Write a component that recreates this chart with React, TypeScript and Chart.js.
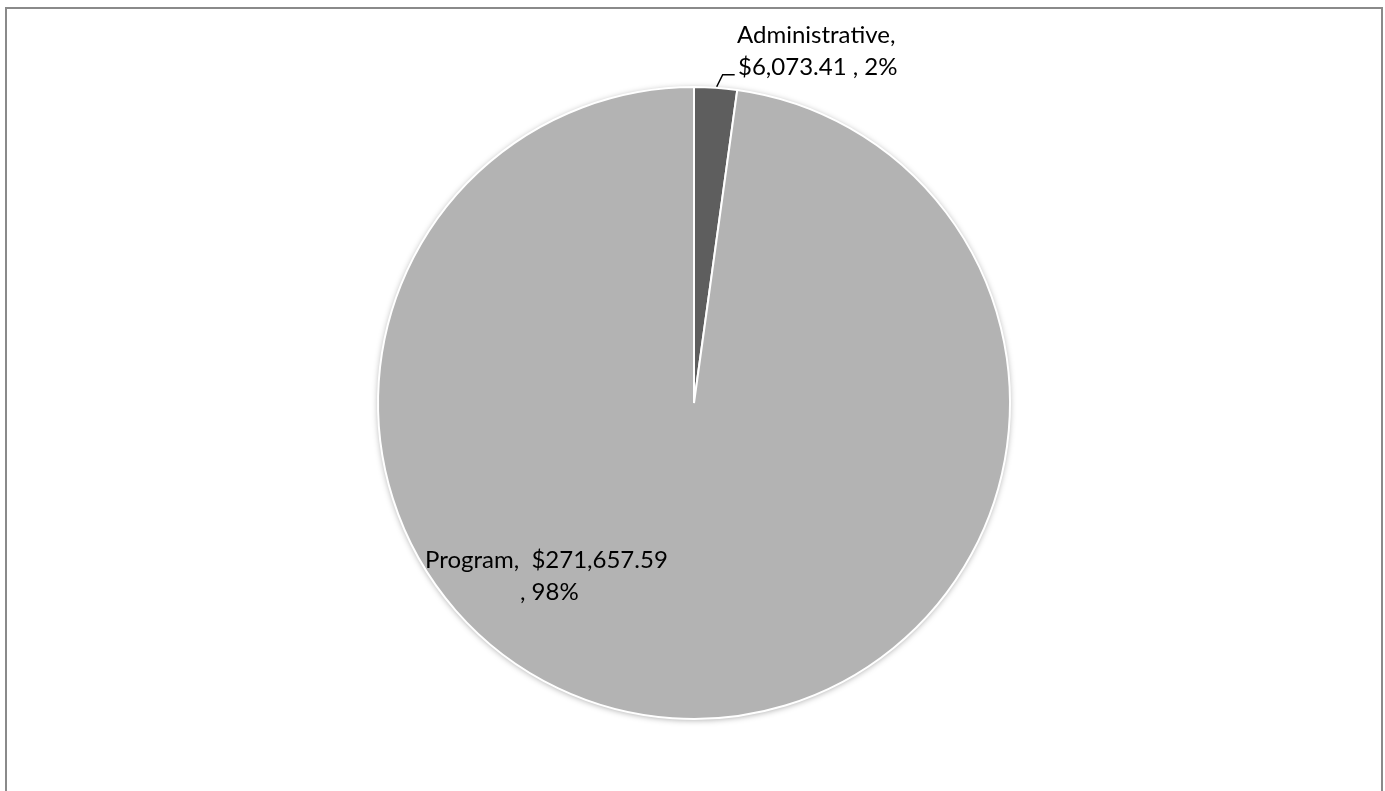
import React, { useEffect, useRef } from "react";
import { Chart, registerables } from "chart.js";

Chart.register(...registerables);

const categories = ["Administrative", "Program"];
const values = [6073.41, 271657.59];
const sliceColors = ["#5e5e5e", "#b3b3b3"];

const FONT = "Lato, 'Open Sans', sans-serif";

function money(v: number) {
  return "$" + v.toLocaleString("en-US", { minimumFractionDigits: 2, maximumFractionDigits: 2 });
}

const total = values.reduce((a, b) => a + b, 0);
const pct = values.map((v) => Math.round((v / total) * 100) + "%");

const frame = {
  id: "frame",
  beforeDraw(chart: any) {
    const ctx = chart.ctx;
    ctx.save();
    ctx.fillStyle = "#ffffff";
    ctx.fillRect(0, 0, chart.width, chart.height);
    ctx.strokeStyle = "#8a8a8a";
    ctx.lineWidth = 2;
    ctx.strokeRect(6, 8, 1376, 800);
    ctx.restore();
  },
  beforeDatasetsDraw(chart: any) {
    const meta = chart.getDatasetMeta(0);
    const arc = meta.data[1];
    if (!arc) return;
    const ctx = chart.ctx;
    ctx.save();
    ctx.shadowColor = "rgba(0,0,0,0.35)";
    ctx.shadowBlur = 6;
    ctx.shadowOffsetX = 0;
    ctx.shadowOffsetY = 1;
    ctx.beginPath();
    ctx.arc(arc.x, arc.y, arc.outerRadius, 0, Math.PI * 2);
    ctx.fillStyle = "#ffffff";
    ctx.fill();
    ctx.restore();
  },
  afterDatasetsDraw(chart: any) {
    const meta = chart.getDatasetMeta(0);
    const a0 = meta.data[0];
    if (!a0) return;
    const cx = a0.x;
    const cy = a0.y;
    const r = a0.outerRadius;
    const ctx = chart.ctx;
    ctx.save();
    ctx.fillStyle = "#000000";
    ctx.font = "24px " + FONT;
    ctx.textBaseline = "alphabetic";
    ctx.textAlign = "left";
    // Administrative label (outside, top)
    const mid = (a0.startAngle + a0.endAngle) / 2;
    const ex = cx + Math.cos(mid) * r;
    const ey = cy + Math.sin(mid) * r;
    ctx.strokeStyle = "#000000";
    ctx.lineWidth = 1.5;
    ctx.beginPath();
    ctx.moveTo(ex + 1, ey - 1);
    ctx.lineTo(ex + 7, ey - 13);
    ctx.lineTo(ex + 19, ey - 13);
    ctx.stroke();
    ctx.fillText(categories[0] + ",", cx + 43, cy - 360);
    ctx.fillText(money(values[0]) + " , " + pct[0], cx + 44, cy - 328);
    // Program label (inside)
    ctx.fillText(categories[1] + ",  " + money(values[1]), cx - 269, cy + 165);
    ctx.fillText(", " + pct[1], cx - 174, cy + 197);
    ctx.restore();
  },
};

export default function App() {
  const ref = useRef<HTMLCanvasElement | null>(null);
  useEffect(() => {
    if (!ref.current) return;
    const chart = new Chart(ref.current, {
      type: "pie",
      data: {
        labels: categories,
        datasets: [
          {
            data: values,
            backgroundColor: sliceColors,
            borderColor: "#ffffff",
            borderWidth: 2,
          },
        ],
      },
      options: {
        responsive: false,
        animation: false,
        radius: 316,
        layout: { padding: { left: 3, right: 0, top: 15, bottom: 0 } },
        plugins: {
          legend: { display: false },
          tooltip: { enabled: false },
          title: { display: false },
        },
      },
      plugins: [frame],
    });
    return () => chart.destroy();
  }, []);
  return (
    <div style={{ position: "fixed", left: 0, top: 0, width: 1385, height: 791, background: "#fff" }}>
      <canvas ref={ref} width={1385} height={791} style={{ width: 1385, height: 791, display: "block" }} />
    </div>
  );
}
